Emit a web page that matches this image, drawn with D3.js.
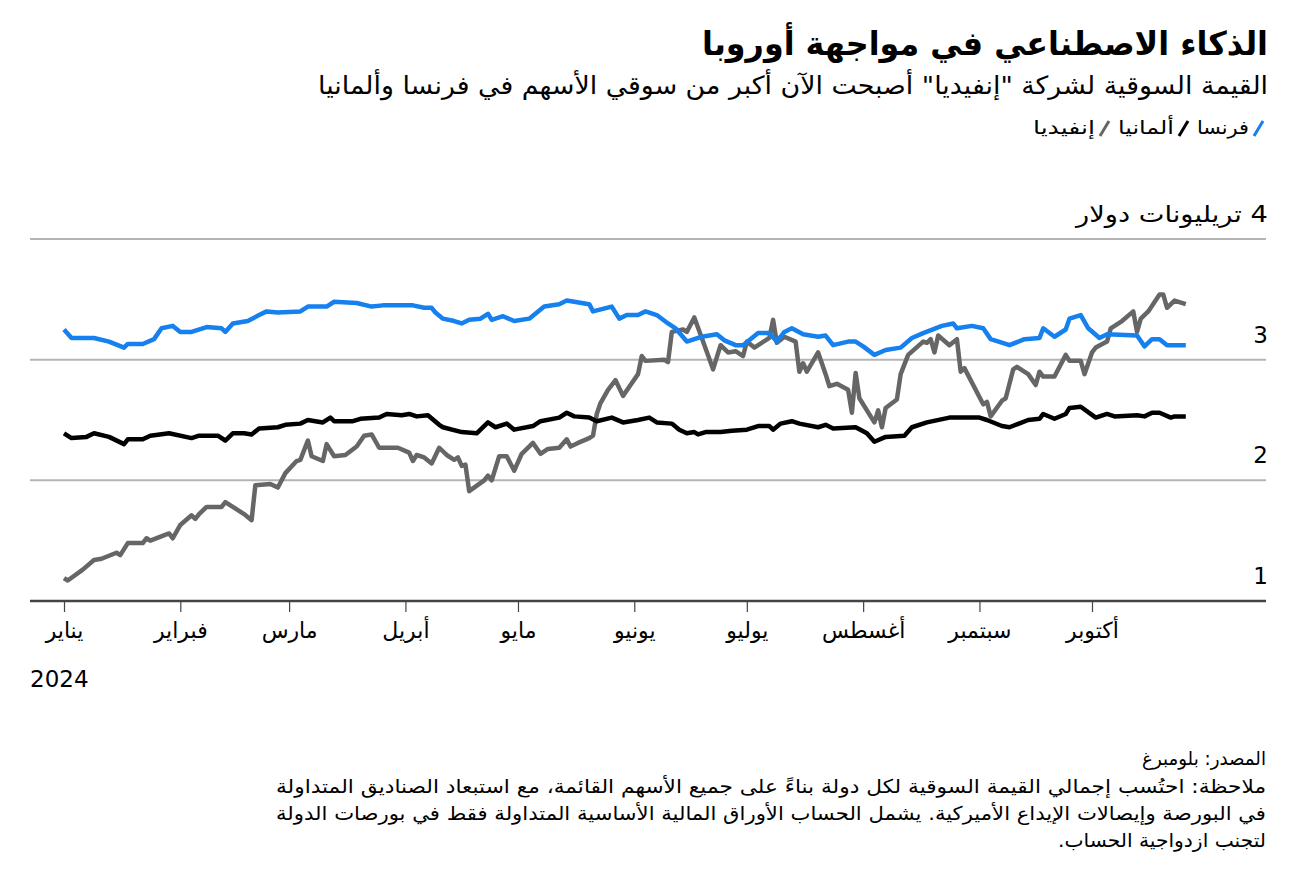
<!DOCTYPE html>
<html>
<head>
<meta charset="utf-8">
<script src="https://cdn.jsdelivr.net/npm/d3@7"></script>
<style>
  body { margin: 0; background: #fff; }
  svg text { font-family: "DejaVu Sans", "Noto Sans", sans-serif; }
</style>
</head>
<body>
<div id="chart"></div>
<script>
// day numbers are days after 1 Jan 2024, values in trillion dollars
const franceDays = [0,2,8,12,16,17,21,24,26,29,31,34,38,42,43,45,49,52,54,57,63,65,70,72,78,82,85,93,96,98,99,101,104,106,108,111,113,114,117,120,124,128,132,134,140,141,146,148,150,153,155,158,161,163,166,168,170,174,176,179,181,185,188,190,192,194,197,201,203,205,209,211,213,216,219,223,226,229,234,237,238,242,245,247,251,252,256,260,261,264,267,268,271,273,276,278,286,288,290,292,294,299];
const franceValues = [3.25,3.18,3.18,3.15,3.10,3.13,3.13,3.17,3.26,3.28,3.23,3.23,3.27,3.26,3.23,3.30,3.32,3.37,3.40,3.39,3.40,3.44,3.44,3.48,3.47,3.44,3.45,3.45,3.43,3.43,3.39,3.34,3.32,3.30,3.33,3.34,3.38,3.33,3.36,3.32,3.34,3.44,3.46,3.49,3.46,3.40,3.44,3.34,3.37,3.37,3.40,3.37,3.30,3.26,3.15,3.17,3.19,3.21,3.16,3.12,3.12,3.22,3.22,3.15,3.23,3.26,3.21,3.19,3.20,3.12,3.15,3.15,3.11,3.04,3.08,3.10,3.18,3.22,3.28,3.30,3.26,3.28,3.26,3.17,3.13,3.12,3.17,3.18,3.26,3.19,3.25,3.34,3.37,3.26,3.18,3.21,3.20,3.11,3.17,3.17,3.12,3.12];

const germanyDays = [0,2,6,8,12,16,17,21,23,28,34,36,41,43,45,48,50,52,57,59,63,65,69,71,72,77,79,84,86,90,92,94,97,100,101,106,110,113,115,118,120,125,127,132,134,136,140,142,146,149,153,156,158,162,164,166,168,169,171,175,178,182,185,188,189,191,194,196,201,203,205,211,214,216,219,224,226,230,236,244,246,250,252,257,260,261,264,267,268,271,275,278,280,286,288,290,292,295,296,299];
const germanyValues = [2.39,2.35,2.36,2.39,2.36,2.30,2.34,2.34,2.37,2.39,2.35,2.37,2.37,2.33,2.39,2.39,2.38,2.43,2.44,2.46,2.47,2.50,2.48,2.52,2.49,2.49,2.51,2.52,2.55,2.54,2.55,2.53,2.54,2.46,2.44,2.40,2.39,2.48,2.44,2.47,2.42,2.45,2.49,2.52,2.56,2.53,2.52,2.49,2.52,2.48,2.50,2.52,2.48,2.47,2.42,2.39,2.40,2.38,2.40,2.40,2.41,2.42,2.45,2.45,2.42,2.47,2.49,2.47,2.44,2.46,2.43,2.44,2.39,2.32,2.36,2.37,2.44,2.48,2.52,2.52,2.50,2.45,2.44,2.50,2.51,2.55,2.51,2.55,2.60,2.61,2.52,2.55,2.53,2.54,2.53,2.56,2.56,2.52,2.53,2.53];

const nvidiaDays = [0,1,5,8,10,14,15,17,21,22,23,28,29,31,34,35,36,38,42,43,45,48,50,51,55,57,59,62,63,65,66,69,70,72,75,78,80,82,84,89,92,93,94,96,98,100,102,104,105,106,107,108,112,113,114,116,118,120,122,125,127,129,132,134,135,137,140,141,142,143,145,147,149,151,153,154,155,160,161,162,165,166,168,170,173,175,177,179,181,182,184,188,189,190,192,195,196,197,198,201,203,204,206,209,210,211,212,216,217,218,219,222,223,225,229,230,231,232,233,236,238,239,240,245,246,247,250,251,252,253,254,257,259,260,261,264,267,268,271,272,274,275,278,279,282,285,286,287,289,292,293,294,296,299];
const nvidiaValues = [1.19,1.17,1.26,1.34,1.35,1.40,1.38,1.48,1.48,1.52,1.50,1.56,1.52,1.63,1.71,1.68,1.72,1.78,1.78,1.82,1.78,1.72,1.67,1.96,1.97,1.94,2.06,2.16,2.17,2.33,2.20,2.16,2.30,2.20,2.21,2.28,2.37,2.38,2.27,2.27,2.23,2.16,2.21,2.19,2.14,2.27,2.21,2.17,2.19,2.12,2.13,1.91,2.00,2.04,2.00,2.20,2.20,2.08,2.22,2.31,2.22,2.26,2.27,2.34,2.28,2.31,2.35,2.37,2.55,2.64,2.75,2.83,2.70,2.79,2.88,3.03,2.99,3.00,2.98,3.23,3.25,3.23,3.35,3.18,2.92,3.12,3.06,3.07,3.03,3.15,3.10,3.18,3.33,3.14,3.19,3.15,2.90,2.97,2.90,3.06,2.88,2.78,2.80,2.75,2.56,2.89,2.68,2.48,2.58,2.44,2.60,2.67,2.88,3.04,3.15,3.14,3.17,3.06,3.20,3.12,3.17,2.90,2.93,2.63,2.65,2.53,2.66,2.68,2.80,2.92,2.94,2.88,2.79,2.90,2.86,2.86,3.04,2.99,2.99,2.88,3.06,3.10,3.15,3.26,3.32,3.40,3.23,3.34,3.40,3.54,3.54,3.43,3.49,3.46];

const monthLabels = ["يناير","فبراير","مارس","أبريل","مايو","يونيو","يوليو","أغسطس","سبتمبر","أكتوبر"];
const yTicks = [2, 3, 4];
const yLabels = ["2", "3", "4 تريليونات دولار"];
const legendNames = ["فرنسا", "ألمانيا", "إنفيديا"];
const legendColors = ["#1580ee", "#000000", "#666666"];

const title = "الذكاء الاصطناعي في مواجهة أوروبا";
const subtitle = "القيمة السوقية لشركة \"إنفيديا\" أصبحت الآن أكبر من سوقي الأسهم في فرنسا وألمانيا";
const source = "المصدر: بلومبرغ";
const noteLines = [
  "ملاحظة: احتُسب إجمالي القيمة السوقية لكل دولة بناءً على جميع الأسهم القائمة، مع استبعاد الصناديق المتداولة",
  "في البورصة وإيصالات الإيداع الأميركية. يشمل الحساب الأوراق المالية الأساسية المتداولة فقط في بورصات الدولة",
  "لتجنب ازدواجية الحساب."
];

const W = 1296, H = 874;
const left = 30, right = 1266;
const start = new Date(2024, 0, 1);
const toDate = n => d3.timeDay.offset(start, n);

const svg = d3.select("#chart").append("svg")
  .attr("width", W)
  .attr("height", H);

const x = d3.scaleTime()
  .domain([new Date(2024, 0, 1), new Date(2024, 9, 1)])
  .range([64, 1092]);
const y = d3.scaleLinear()
  .domain([1, 4])
  .range([601, 239]);

// the fallback arabic font has other widths than the original, so set the width
function fit(sel, w) {
  sel.attr("textLength", w).attr("lengthAdjust", "spacingAndGlyphs");
  return sel;
}

function rtlText(txt, xPos, yPos, size, weight) {
  return svg.append("text")
    .attr("x", xPos)
    .attr("y", yPos)
    .attr("direction", "rtl")
    .attr("text-anchor", "start")
    .attr("font-size", size)
    .attr("font-weight", weight || "normal")
    .attr("fill", "#000")
    .text(txt);
}

// header
fit(rtlText(title, right + 2, 55, 33, "bold"), 566);
fit(rtlText(subtitle, right + 2, 94, 25), 950);

// legend
const legendWidths = [52, 56, 62];
let lx = right - 8;
legendNames.forEach((name, i) => {
  svg.append("line")
    .attr("x1", lx - 4).attr("y1", 136)
    .attr("x2", lx + 5).attr("y2", 121)
    .attr("stroke", legendColors[i])
    .attr("stroke-width", 3);
  fit(rtlText(name, lx - 9, 134, 19), legendWidths[i]);
  lx = lx - 9 - legendWidths[i] - 14;
});

// grid
svg.append("g")
  .selectAll("line")
  .data(yTicks)
  .join("line")
  .attr("x1", left).attr("x2", right)
  .attr("y1", d => y(d)).attr("y2", d => y(d))
  .attr("stroke", "#b4b4b4")
  .attr("stroke-width", 2);

const yl = svg.append("g")
  .selectAll("text")
  .data([1].concat(yTicks))
  .join("text")
  .attr("x", right + 2)
  .attr("y", d => y(d) - 17)
  .attr("direction", "rtl")
  .attr("text-anchor", "start")
  .attr("font-size", 23)
  .text((d, i) => i == 0 ? "1" : yLabels[i - 1]);
fit(yl.filter(d => d == 4), 192);

// x axis
const xAxis = d3.axisBottom(x)
  .tickValues(d3.range(10).map(m => new Date(2024, m, 1)))
  .tickSize(11)
  .tickFormat((d, i) => monthLabels[i]);

const gx = svg.append("g")
  .attr("transform", "translate(0,601)")
  .call(xAxis);
gx.select(".domain").remove();
gx.selectAll(".tick line").attr("stroke", "#444").attr("stroke-width", 1.2);
gx.selectAll(".tick text")
  .attr("font-size", 22)
  .attr("fill", "#000")
  .attr("dy", 0)
  .attr("y", 37)
  .attr("font-family", "DejaVu Sans, sans-serif");
gx.append("line")
  .attr("x1", left).attr("x2", right)
  .attr("stroke", "#444")
  .attr("stroke-width", 2.5);

svg.append("text")
  .attr("x", left)
  .attr("y", 687)
  .attr("font-size", 23)
  .text("2024");

// series
const line = d3.line()
  .x(d => x(toDate(d[0])))
  .y(d => y(d[1]));

const series = [
  {days: nvidiaDays, values: nvidiaValues, color: legendColors[2]},
  {days: germanyDays, values: germanyValues, color: legendColors[1]},
  {days: franceDays, values: franceValues, color: legendColors[0]}
];

series.forEach(s => {
  svg.append("path")
    .datum(d3.zip(s.days, s.values))
    .attr("fill", "none")
    .attr("stroke", s.color)
    .attr("stroke-width", 4.5)
    .attr("stroke-linejoin", "round")
    .attr("d", line);
});

// footer
fit(rtlText(source, right, 765, 19), 124);
const noteWidths = [990, 990, 208];
noteLines.forEach((t, i) => {
  fit(rtlText(t, right, 793 + i * 27, 19), noteWidths[i]);
});
</script>
</body>
</html>
